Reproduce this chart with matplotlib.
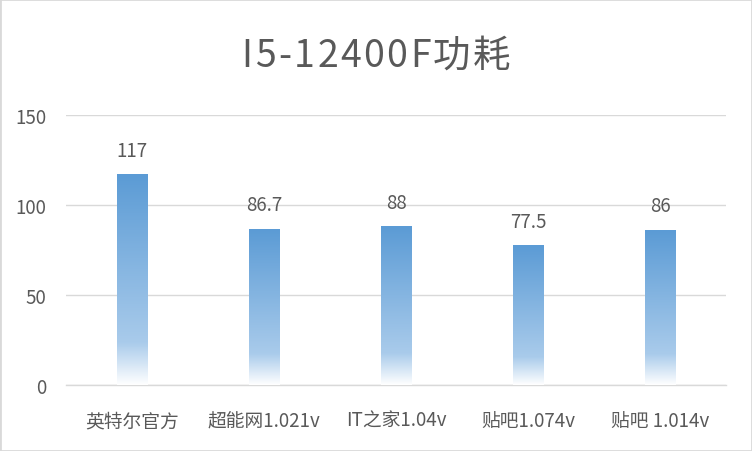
import numpy as np
import matplotlib
matplotlib.use("Agg")
import matplotlib.pyplot as plt
from matplotlib.colors import LinearSegmentedColormap
from matplotlib.patches import Rectangle

plt.rcParams['font.family'] = ['Noto Sans CJK SC', 'DejaVu Sans']

title = "I5-12400F功耗"
categories = ["英特尔官方", "超能网1.021v", "IT之家1.04v", "贴吧1.074v", "贴吧 1.014v"]
values = [117, 86.7, 88, 77.5, 86]
value_labels = ["117", "86.7", "88", "77.5", "86"]
yticks = [0, 50, 100, 150]

txt = "#595959"
grid = "#D9D9D9"

# gradient: blue at top, fades to white at bottom
cmap = LinearSegmentedColormap.from_list(
    "fade", [(0.0, "#FFFFFF"), (0.2, "#A9CBEB"), (1.0, "#5B9BD5")])

fig = plt.figure(figsize=(7.52, 4.52), dpi=100)
ax = fig.add_axes([0.0878, 0.146, 0.8777, 0.597])

x = np.arange(len(categories))
bars = ax.bar(x, values, width=0.23, color="none", edgecolor="none", zorder=3)
grad = np.linspace(0, 1, 256).reshape(-1, 1)
for b in bars:
    x0, w, h = b.get_x(), b.get_width(), b.get_height()
    ax.imshow(grad, extent=(x0, x0 + w, 0, h), origin="lower", cmap=cmap,
              aspect="auto", zorder=3, interpolation="bilinear")

ax.bar_label(bars, labels=value_labels, padding=10, fontsize=13.5, color=txt)

ax.set_xlim(-0.5, len(categories) - 0.5)
ax.set_ylim(0, 150)
ax.set_yticks(yticks)
ax.set_xticks(x)
ax.set_xticklabels(categories)
ax.tick_params(axis="both", length=0, labelsize=13.5, labelcolor=txt)
ax.tick_params(axis="y", pad=14)
ax.tick_params(axis="x", pad=18)
ax.grid(axis="y", color=grid, linewidth=1, zorder=0)
for s in ["top", "right", "left"]:
    ax.spines[s].set_visible(False)
ax.spines["bottom"].set_color(grid)
ax.spines["bottom"].set_linewidth(1)

# title with a bit of letter spacing
renderer = fig.canvas.get_renderer()
track = 2.4  # px between characters
parts = []
for ch in title:
    t = fig.text(0, 0.876, ch, ha="left", va="center", fontsize=27,
                 color=txt, fontweight="medium")
    parts.append((t, t.get_window_extent(renderer).width))
total = sum(w for _, w in parts) + track * (len(parts) - 1)
cur = (fig.bbox.width - total) / 2
for t, w in parts:
    t.set_x(cur / fig.bbox.width)
    cur += w + track

fig.patches.append(Rectangle((0, 0), 1, 1, transform=fig.transFigure,
                             fill=False, edgecolor=grid, linewidth=2))

fig.savefig("out.png", dpi=100)
